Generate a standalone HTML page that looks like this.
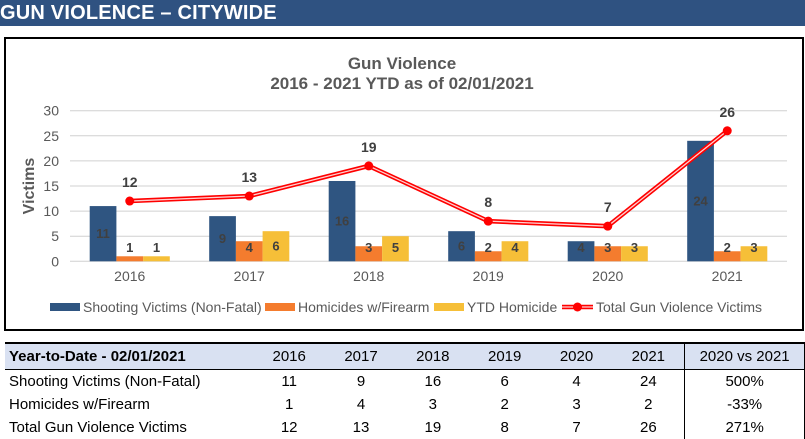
<!DOCTYPE html>
<html><head><meta charset="utf-8">
<style>
body{margin:0;width:805px;height:439px;background:#fff;overflow:hidden;font-family:"Liberation Sans",Arial,sans-serif;position:relative}
#hdr{position:absolute;left:0;top:0;width:805px;height:26px;background:#2f5281;color:#fff;font-weight:bold;font-size:20px;line-height:27px;padding-left:0;letter-spacing:0.2px;font-family:"Liberation Sans",sans-serif}
#box{position:absolute;left:4px;top:37px;width:796px;height:290px;border:2px solid #000}
svg{position:absolute;left:0;top:0}
table{position:absolute;left:5px;top:342px;border-collapse:collapse;font-family:"Liberation Sans Narrow","Liberation Sans",sans-serif;font-size:15px;color:#000}
td{height:23px;padding:0;text-align:center}
tr.h td{background:#d9e1f2;border-top:2px solid #000;border-bottom:1px solid #000;height:25px}
td.l{text-align:left;padding-left:4px}
</style></head><body>
<div id="hdr">GUN VIOLENCE – CITYWIDE</div>
<div id="box"></div>
<svg id="chart" width="805" height="340"></svg>
<table>
<tr class="h"><td class="l" style="width:245px;font-weight:bold">Year-to-Date - 02/01/2021</td><td style="width:72px">2016</td><td style="width:72px">2017</td><td style="width:72px">2018</td><td style="width:72px">2019</td><td style="width:72px">2020</td><td style="width:72px">2021</td><td style="width:119px;border-left:1px solid #000;border-right:1px solid #000">2020 vs 2021</td></tr>
<tr><td class="l">Shooting Victims (Non-Fatal)</td><td>11</td><td>9</td><td>16</td><td>6</td><td>4</td><td>24</td><td style="border-left:1px solid #000;border-right:1px solid #000">500%</td></tr>
<tr><td class="l">Homicides w/Firearm</td><td>1</td><td>4</td><td>3</td><td>2</td><td>3</td><td>2</td><td style="border-left:1px solid #000;border-right:1px solid #000">-33%</td></tr>
<tr><td class="l">Total Gun Violence Victims</td><td>12</td><td>13</td><td>19</td><td>8</td><td>7</td><td>26</td><td style="border-left:1px solid #000;border-right:1px solid #000">271%</td></tr>
</table>
<script>
const categories=["2016","2017","2018","2019","2020","2021"];
const shooting=[11,9,16,6,4,24];
const homicides=[1,4,3,2,3,2];
const ytdHomicide=[1,6,5,4,3,3];
const totalVictims=[12,13,19,8,7,26];
const yTicks=[0,5,10,15,20,25,30];
const NS="http://www.w3.org/2000/svg";
const svg=document.getElementById("chart");
const X0=70,X1=787,Y0=261.3,Y1=110.7,YMAX=30;
const bw=(X1-X0)/categories.length;
const y=v=>Y0-(v/YMAX)*(Y0-Y1);
const xc=i=>X0+bw*(i+0.5);
function mk(t,a,txt){const e=document.createElementNS(NS,t);for(const k in a)e.setAttribute(k,a[k]);if(txt!==undefined)e.textContent=txt;svg.appendChild(e);return e;}
let e;
e=mk("text",{x:402,y:69,"text-anchor":"middle","font-size":17,"font-weight":"bold",fill:"#595959"},"Gun Violence");

e=mk("text",{x:402,y:89,"text-anchor":"middle","font-size":17,"font-weight":"bold",fill:"#595959"},"2016 - 2021 YTD as of 02/01/2021");

yTicks.forEach(t=>{
 e=mk("line",{x1:X0,x2:X1,y1:y(t),y2:y(t),stroke:"#d0d0d0","stroke-width":1});
 
 e=mk("text",{x:59,y:y(t)+5,"text-anchor":"end","font-size":14,fill:"#595959"},t);
 
});
e=mk("text",{x:0,y:0,transform:"translate(34,186) rotate(-90)","text-anchor":"middle","font-size":16,"font-weight":"bold",fill:"#595959"},"Victims");

const series=[[shooting,"#2f5581"],[homicides,"#f47c2e"],[ytdHomicide,"#f6bf38"]];
const barW=26.7;
categories.forEach((c,i)=>{
 e=mk("text",{x:xc(i),y:281,"text-anchor":"middle","font-size":14,fill:"#595959"},c);
 
 series.forEach((s,j)=>{
  const v=s[0][i],bx=xc(i)+(j-1.5)*barW;
  e=mk("rect",{x:bx,y:y(v),width:barW,height:Y0-y(v),fill:s[1]});
  
  const ly=Math.min((y(v)+Y0)/2,247.5)+4.5;
  e=mk("text",{x:bx+barW/2,y:ly,"text-anchor":"middle","font-size":13,"font-weight":"bold",fill:"#404040"},v);
  
 });
});
const pts=totalVictims.map((v,i)=>xc(i)+","+y(v)).join(" ");
e=mk("polyline",{points:pts,fill:"none",stroke:"#ff0000","stroke-width":4.5});

e=mk("polyline",{points:pts,fill:"none",stroke:"#ffd0d0","stroke-width":1.3});

totalVictims.forEach((v,i)=>{
 e=mk("circle",{cx:xc(i),cy:y(v),r:4.5,fill:"#ff0000"});
 
 e=mk("text",{x:xc(i),y:y(v)-14,"text-anchor":"middle","font-size":14,"font-weight":"bold",fill:"#404040"},v);
 
});
const legend=[["Shooting Victims (Non-Fatal)","#2f5581",50],["Homicides w/Firearm","#f47c2e",265],["YTD Homicide","#f6bf38",434]];
legend.forEach(l=>{
 e=mk("rect",{x:l[2],y:303,width:30,height:8,fill:l[1]});
 
 e=mk("text",{x:l[2]+33,y:312,"font-size":14,fill:"#595959"},l[0]);
 
});
e=mk("line",{x1:562,x2:593,y1:307,y2:307,stroke:"#ff0000","stroke-width":4.5});

mk("line",{x1:562,x2:593,y1:307,y2:307,stroke:"#ffd0d0","stroke-width":1.3});
e=mk("circle",{cx:577.5,cy:307,r:4.5,fill:"#ff0000"});

e=mk("text",{x:596,y:312,"font-size":14,fill:"#595959"},"Total Gun Violence Victims");

</script>
</body></html>
